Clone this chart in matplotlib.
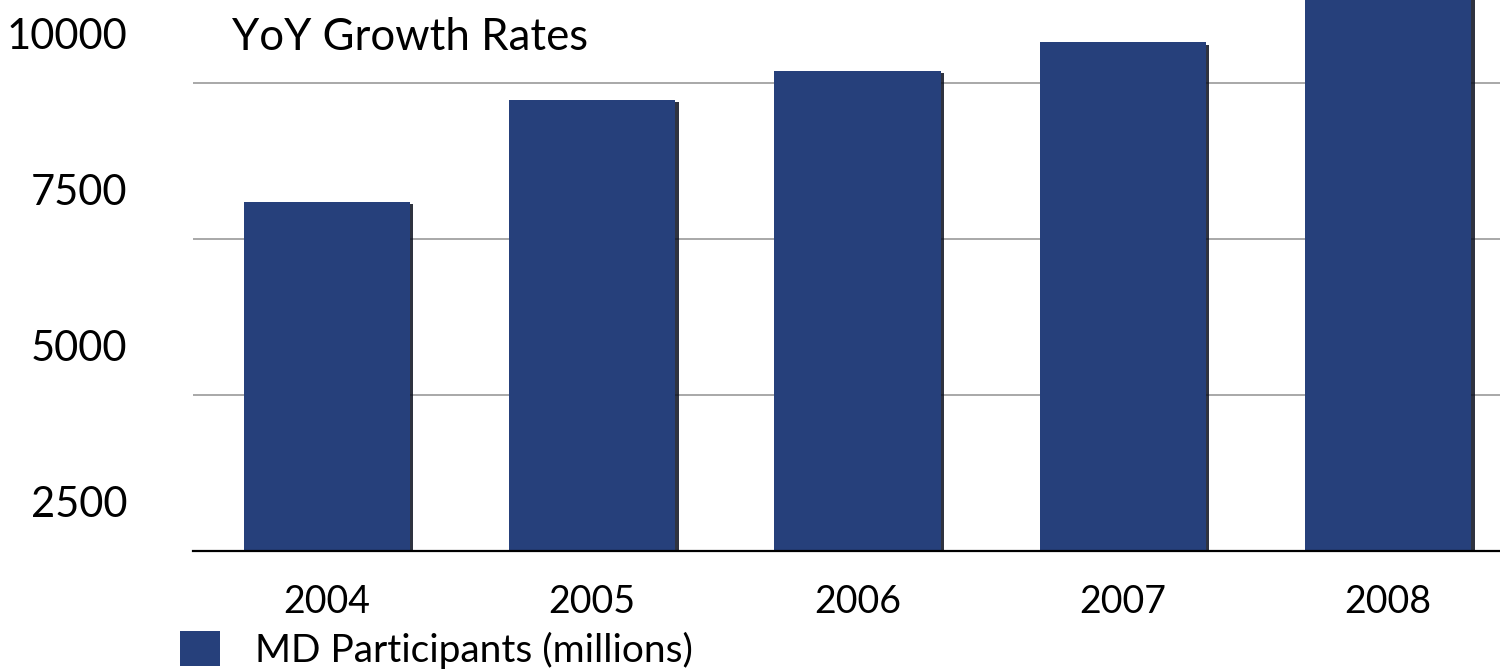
import matplotlib
matplotlib.use("Agg")
import matplotlib.pyplot as plt
import matplotlib.patheffects as pe
from matplotlib.transforms import ScaledTranslation, blended_transform_factory

years = ["2004", "2005", "2006", "2007", "2008"]
participants = [8100, 9730, 10200, 10650, 11800]
y_ticks = [2500, 5000, 7500, 10000]
y_min, y_max = 2500, 11330
title = "YoY Growth Rates"
legend_label = "MD Participants (millions)"
bar_color = "#26407B"

plt.rcParams['font.family'] = ['Lato', 'DejaVu Sans']

fig = plt.figure(figsize=(15, 6.71), dpi=100)
ax = fig.add_axes([193/1500, 1 - 551/671, 1 - 193/1500, 551/671])

x = list(range(len(years)))
bars = ax.bar(x, participants, width=0.626, color=bar_color, zorder=3,
              label=legend_label)
for b in bars:
    b.set_path_effects([pe.SimplePatchShadow(offset=(2.5, -1.5), shadow_rgbFace='#0a0f1e', alpha=0.85),
                        pe.Normal()])

ax.set_xlim(-0.505, 4.422)
ax.set_ylim(y_min, y_max)

for v in y_ticks[1:]:
    ax.axhline(v, color='#a8a8a8', lw=1.4, zorder=1)

for s in ['top', 'right', 'left']:
    ax.spines[s].set_visible(False)
ax.spines['bottom'].set_color('black')
ax.spines['bottom'].set_linewidth(1.6)
ax.spines['bottom'].set_zorder(4)

ax.set_yticks([])
ax.set_xticks(x)
ax.set_xticklabels(years, fontsize=27)
ax.tick_params(axis='x', length=0, pad=24)

trans = blended_transform_factory(ax.transAxes, ax.transData) + \
    ScaledTranslation(-66/100, 46/100, fig.dpi_scale_trans)
for v in y_ticks:
    ax.text(0, v, str(v), transform=trans, ha='right', va='center',
            fontsize=30, clip_on=False)

fig.text(232/1500, 1 - 50/671, title, fontsize=31.5, ha='left', va='baseline')

leg = fig.legend(handles=[bars], labels=[legend_label], loc='lower left',
                 bbox_to_anchor=(180/1500, 1 - 669/671), frameon=False,
                 fontsize=28, handlelength=1.02, handleheight=1.02,
                 handletextpad=0.92, borderpad=0, borderaxespad=0)
for h in leg.legend_handles:
    h.set_path_effects([])

fig.savefig("out.png", dpi=100)
